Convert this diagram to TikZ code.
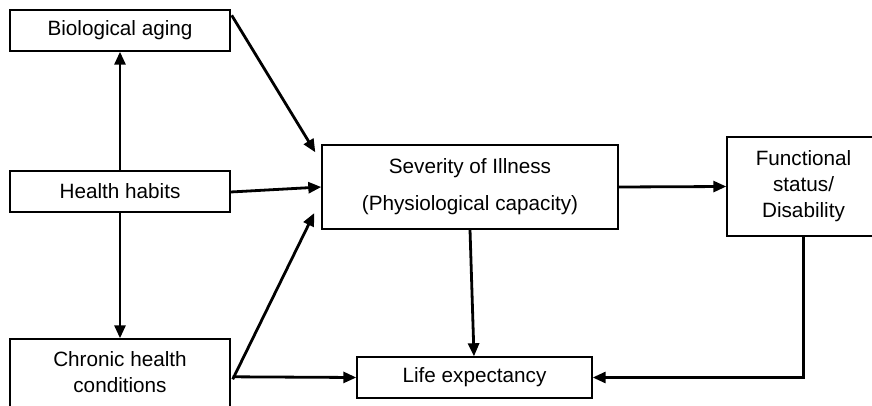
\documentclass[tikz,border=0pt]{standalone}
\usepackage{fontspec}
\setmainfont{Liberation Sans}
\usetikzlibrary{arrows.meta,calc}
\begin{document}
\begin{tikzpicture}[x=1pt,y=-1pt,
  box/.style={draw=black,line width=1.4pt,fill=white,inner sep=0pt,align=center,
    font=\fontsize{20.7}{26}\selectfont},
  lbl/.style={inner sep=0pt,align=center,font=\fontsize{20.7}{26}\selectfont},
  arr/.style={line width=2.8pt,-{Triangle[length=13pt,width=11pt]}}]
\useasboundingbox (0,0) rectangle (872,406);
\node[box,minimum width=220pt,minimum height=41pt] (bio) at (120,30.5) {Biological aging};
\node[box,minimum width=220pt,minimum height=41pt] (habits) at (120,191.5) {Health habits};
\node[box,minimum width=220pt,minimum height=91pt] (chronic) at (120,384.5) {};
\node[lbl] (chronict) at (120,372) {Chronic health\\conditions};
\node[box,minimum width=296pt,minimum height=84pt,font=\fontsize{20.7}{37}\selectfont] (sev) at (470,187) {Severity of Illness\\(Physiological capacity)};
\node[box,minimum width=153pt,minimum height=99pt] (func) at (803.5,186.5) {Functional\\status/\\Disability};
\node[box,minimum width=235pt,minimum height=41pt] (life) at (474.5,377.5) {Life expectancy};
\draw[arr] (habits.north) -- (bio.south);
\draw[arr] (habits.south) -- (chronic.north);
\draw[arr] ($(bio.north east)+(1,6)$) -- ($(sev.north west)+(-6,8)$);
\draw[arr] ($(habits.east)+(0,0.5)$) -- (sev.west);
\draw[arr] ($(chronic.north east)+(2,41)$) -- ($(sev.west)+(-7,26)$);
\draw[arr] ($(chronic.north east)+(2,38.5)$) -- (life.west);
\draw[arr] (sev.south) -- ($(life.north)+(-0.5,0)$);
\draw[arr] (sev.east) -- (func.west);
\draw[arr] (func.south) |- (life.east);
\end{tikzpicture}
\end{document}
